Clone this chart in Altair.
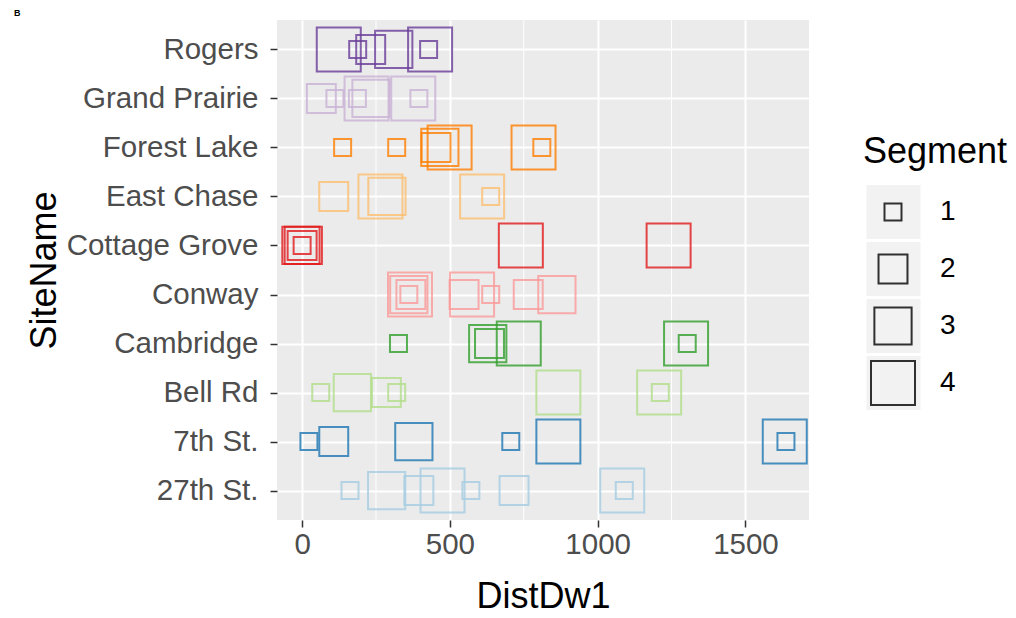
import altair as alt
import pandas as pd

# Sites in alphabetical order (colour order); plotted bottom-to-top
sites = ["27th St.", "7th St.", "Bell Rd", "Cambridge", "Conway",
         "Cottage Grove", "East Chase", "Forest Lake", "Grand Prairie", "Rogers"]
palette = ["#A6CEE3", "#1F78B4", "#B2DF8A", "#33A02C", "#FB9A99",
           "#E31A1C", "#FDBF6F", "#FF7F00", "#CAB2D6", "#6A3D9A"]

# Downstream distance and segment number, per site
dist_27th = [162, 286, 395, 475, 571, 717, 1083, 1090]
seg_27th = [1, 3, 2, 4, 1, 2, 4, 1]
dist_7th = [23, 107, 378, 706, 867, 1633, 1637]
seg_7th = [1, 2, 3, 1, 4, 4, 1]
dist_bell = [63, 170, 285, 320, 867, 1208, 1212]
seg_bell = [1, 3, 2, 1, 4, 4, 1]
dist_cambridge = [326, 628, 634, 733, 1299, 1303]
seg_cambridge = [1, 3, 2, 4, 4, 1]
dist_conway = [365, 361, 368, 361, 575, 548, 638, 765, 862]
seg_conway = [4, 3, 2, 1, 4, 2, 1, 2, 3]
dist_cottage = [-4, 4, 0, 0, 740, 1240]
seg_cottage = [3, 3, 2, 1, 4, 4]
dist_east = [107, 265, 287, 609, 638]
seg_east = [2, 4, 3, 4, 1]
dist_forest = [137, 320, 453, 466, 499, 783, 811]
seg_forest = [1, 1, 2, 3, 4, 4, 1]
dist_grand = [65, 111, 187, 218, 233, 376, 395]
seg_grand = [2, 1, 1, 4, 3, 4, 1]
dist_rogers = [124, 188, 232, 310, 433, 428]
seg_rogers = [4, 1, 2, 3, 4, 1]

segments = [1, 2, 3, 4]
x_ticks = [0, 500, 1000, 1500]
x_minor = [250, 750, 1250]

per_site = {
    "27th St.": (dist_27th, seg_27th),
    "7th St.": (dist_7th, seg_7th),
    "Bell Rd": (dist_bell, seg_bell),
    "Cambridge": (dist_cambridge, seg_cambridge),
    "Conway": (dist_conway, seg_conway),
    "Cottage Grove": (dist_cottage, seg_cottage),
    "East Chase": (dist_east, seg_east),
    "Forest Lake": (dist_forest, seg_forest),
    "Grand Prairie": (dist_grand, seg_grand),
    "Rogers": (dist_rogers, seg_rogers),
}

rows = []
for site, (dists, segs) in per_site.items():
    for d, s in zip(dists, segs):
        rows.append({"SiteName": site, "DistDw1": d, "Segment": s})
df = pd.DataFrame(rows)
minor_df = pd.DataFrame({"DistDw1": x_minor})

FONT = "Liberation Sans"
x_scale = alt.Scale(domain=[-85, 1715], nice=False, zero=False)
x_enc = alt.X(
    "DistDw1:Q",
    scale=x_scale,
    axis=alt.Axis(values=x_ticks, format="d", title="DistDw1",
                  labelPadding=3, titlePadding=21),
)
y_enc = alt.Y(
    "SiteName:N",
    sort=list(reversed(sites)),
    scale=alt.Scale(padding=0.6),
    axis=alt.Axis(title="SiteName", labelPadding=12, titlePadding=14, labelLimit=400),
)

# shared legend geometry so the key backgrounds line up with the key symbols
legend_geom = dict(
    orient="none", legendX=586, legendY=115, columns=1,
    clipHeight=54, rowPadding=3, titlePadding=14, symbolType="square",
)

minor_grid = alt.Chart(minor_df).mark_rule(color="white", strokeWidth=1).encode(
    x=alt.X("DistDw1:Q", scale=x_scale)
)

# light grey key backgrounds for the Segment legend (the layer itself draws nothing)
key_backgrounds = alt.Chart(df).transform_filter(
    alt.datum.Segment > 4
).mark_point(filled=True, color="#F2F2F2", opacity=1).encode(
    x=x_enc,
    y=y_enc,
    shape=alt.Shape(
        "Segment:O",
        scale=alt.Scale(domain=segments, range=["square"] * 4),
        legend=alt.Legend(
            title="Segment", titleColor="transparent", labelColor="transparent",
            symbolSize=2916, symbolFillColor="#F2F2F2", symbolStrokeColor="#F2F2F2",
            symbolStrokeWidth=0.5, symbolOffset=3, zindex=1,
            **legend_geom,
        ),
    ),
)

points = alt.Chart(df).mark_point(
    shape="square", filled=False, strokeWidth=2, opacity=0.8
).encode(
    x=x_enc,
    y=y_enc,
    color=alt.Color("SiteName:N", scale=alt.Scale(domain=sites, range=palette), legend=None),
    size=alt.Size(
        "Segment:Q",
        scale=alt.Scale(domain=[1, 4], range=[289, 1936], zero=False, nice=False),
        legend=alt.Legend(
            title="Segment",
            values=segments,
            format="d",
            symbolStrokeColor="black",
            symbolFillColor="transparent",
            symbolStrokeWidth=2,
            symbolOffset=7,
            labelOffset=24,
            zindex=2,
            **legend_geom,
        ),
    ),
)

chart = alt.layer(minor_grid, key_backgrounds, points).properties(
    width=532,
    height=500,
    autosize=alt.AutoSizeParams(type="none"),
    padding={"left": 277, "top": 20, "right": 207, "bottom": 98},
    title=alt.TitleParams("B", anchor="start", frame="group", dx=-263, offset=0, dy=-2,
                          fontSize=9, fontWeight="bold", font=FONT, color="black"),
).configure_view(
    fill="#EBEBEB", strokeWidth=0
).configure_axis(
    grid=True, gridColor="white", gridWidth=2,
    domain=False,
    tickColor="#333333", tickSize=7, tickWidth=1.5,
    labelFont=FONT, labelFontSize=29.5, labelColor="#4D4D4D",
    titleFont=FONT, titleFontSize=36, titleFontWeight="normal", titleColor="black",
).configure_legend(
    titleFont=FONT, titleFontSize=36, titleFontWeight="normal", titleColor="black",
    labelFont=FONT, labelFontSize=28, labelColor="black",
)

chart.save("out.html", embed_options={"renderer": "svg", "actions": False})
